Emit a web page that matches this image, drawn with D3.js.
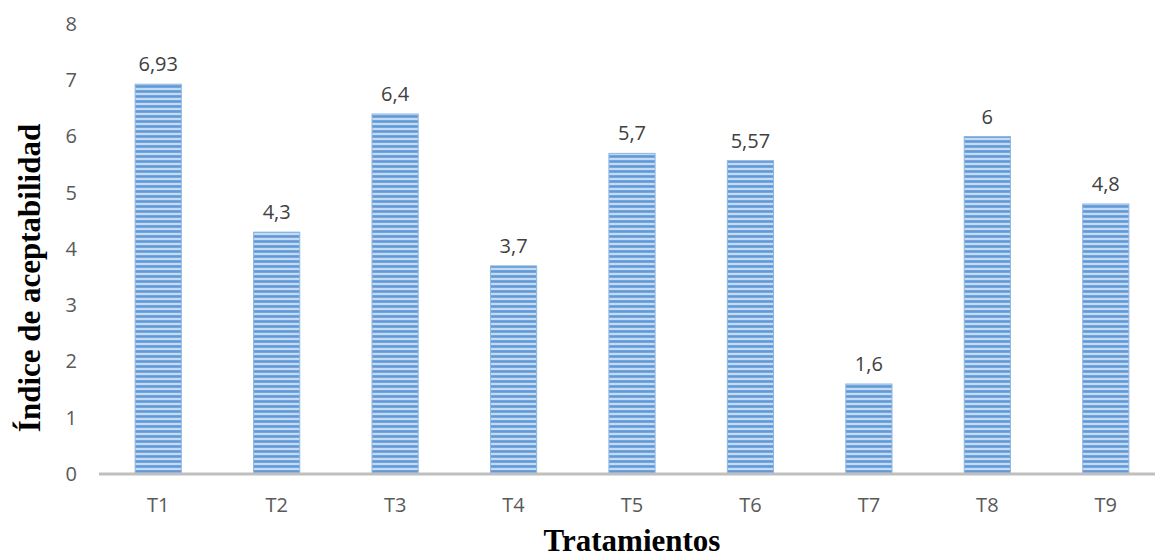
<!DOCTYPE html>
<html>
<head>
<meta charset="utf-8">
<script src="https://cdn.jsdelivr.net/npm/d3@7"></script>
<style>
  html, body { margin: 0; padding: 0; background: #fff; }
  svg { display: block; }
</style>
</head>
<body>
<svg id="chart" width="1155" height="559"></svg>
<script>
// Acceptability index per treatment
const categories = ["T1", "T2", "T3", "T4", "T5", "T6", "T7", "T8", "T9"];
const values = [6.93, 4.3, 6.4, 3.7, 5.7, 5.57, 1.6, 6, 4.8];
const yTicks = [0, 1, 2, 3, 4, 5, 6, 7, 8];

const svg = d3.select("#chart");
const W = 1155, H = 559;
const labelFont = "'Open Sans', 'Noto Sans', sans-serif";
const titleFont = "'Liberation Serif', 'Times New Roman', serif";

const x = d3.scaleBand().domain(categories).range([99, 1165]).paddingInner(0.61).paddingOuter(0.305);
const y = d3.scaleLinear().domain([0, 8]).range([474, 24]);

// Striped fill for the bars
const defs = svg.append("defs");
const pat = defs.append("pattern")
  .attr("id", "stripes")
  .attr("patternUnits", "userSpaceOnUse")
  .attr("width", 10).attr("height", 5);
pat.append("rect").attr("width", 10).attr("height", 5).attr("fill", "#c6dbf2");
pat.append("rect").attr("y", 0).attr("width", 10).attr("height", 3).attr("fill", "#74a7de");
pat.append("rect").attr("y", 0.8).attr("width", 10).attr("height", 1.2).attr("fill", "#6199d6");

// Bars
svg.append("g").selectAll("rect.bar")
  .data(values)
  .join("rect")
  .attr("class", "bar")
  .attr("x", (d, i) => x(categories[i]))
  .attr("y", d => y(d))
  .attr("width", x.bandwidth())
  .attr("height", d => y(0) - y(d))
  .attr("fill", "url(#stripes)")
  .attr("stroke", "#8fb6e3")
  .attr("stroke-width", 1);

// Value labels
svg.append("g").selectAll("text")
  .data(values)
  .join("text")
  .attr("x", (d, i) => x(categories[i]) + x.bandwidth() / 2)
  .attr("y", d => y(d) - 13)
  .attr("text-anchor", "middle")
  .attr("font-family", labelFont)
  .attr("font-size", 20)
  .attr("fill", "#404040")
  .text(d => String(d).replace(".", ","));

// Y axis labels (no axis line)
const yAxis = d3.axisLeft(y).tickValues(yTicks).tickSize(0).tickPadding(0);
const gy = svg.append("g").attr("transform", "translate(77,0)").call(yAxis);
gy.select(".domain").remove();
gy.selectAll("text")
  .attr("font-family", labelFont)
  .attr("font-size", 20)
  .attr("fill", "#595959");

// X axis
const xAxis = d3.axisBottom(x).tickSize(0).tickPadding(0);
const gx = svg.append("g").attr("transform", `translate(0,${y(0)})`).call(xAxis);
gx.select(".domain").remove();
gx.append("line")
  .attr("x1", 99).attr("x2", W)
  .attr("y1", 0).attr("y2", 0)
  .attr("stroke", "#bfbfbf").attr("stroke-width", 3);
gx.selectAll(".tick text")
  .attr("dy", 0)
  .attr("y", 38)
  .attr("font-family", labelFont)
  .attr("font-size", 20)
  .attr("fill", "#595959");

// Axis titles
svg.append("text")
  .attr("x", 632).attr("y", 551)
  .attr("text-anchor", "middle")
  .attr("font-family", titleFont)
  .attr("font-weight", "bold")
  .attr("font-size", 31)
  .attr("fill", "#000")
  .text("Tratamientos");

svg.append("text")
  .attr("transform", "translate(40,278) rotate(-90)")
  .attr("text-anchor", "middle")
  .attr("font-family", titleFont)
  .attr("font-weight", "bold")
  .attr("font-size", 31)
  .attr("fill", "#000")
  .text("Índice de aceptabilidad");
</script>
</body>
</html>
